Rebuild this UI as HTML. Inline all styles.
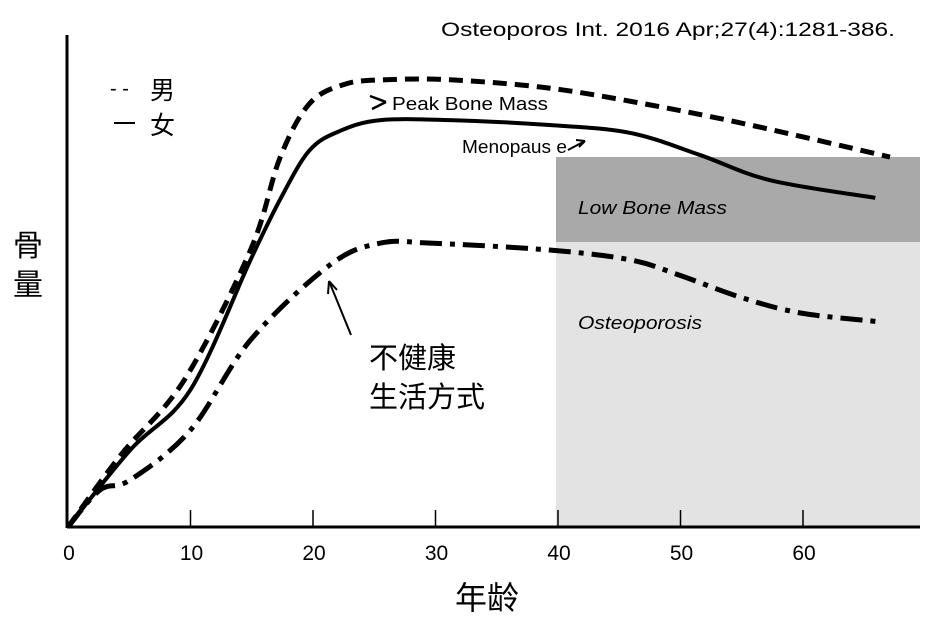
<!DOCTYPE html>
<html><head><meta charset="utf-8"><style>
body{margin:0;background:#fff;width:931px;height:620px;overflow:hidden}
svg text{font-family:"Liberation Sans","Noto Sans CJK SC",sans-serif}
</style></head><body>
<svg id="chart" width="931" height="620">
<rect x="556" y="157" width="364" height="370" fill="#e3e3e3"/>
<rect x="556" y="157" width="364" height="85" fill="#a9a9a9"/>
<g id="axes"></g>
<g id="series"></g>
<text x="441" y="36" font-size="19" textLength="454" lengthAdjust="spacingAndGlyphs">Osteoporos Int. 2016 Apr;27(4):1281-386.</text>
<text x="110" y="95" font-size="20">- -</text>
<text x="150" y="99" font-size="25">男</text>
<line x1="114" y1="123" x2="135" y2="123" stroke="#000" stroke-width="2"/>
<text x="150" y="134" font-size="25">女</text>
<text x="392" y="110" font-size="18" textLength="156" lengthAdjust="spacingAndGlyphs">Peak Bone Mass</text>
<path d="M386,102 L370,96 M386,102 L372,109" stroke="#000" stroke-width="2.5" fill="none"/>
<text x="462" y="153" font-size="18" textLength="105" lengthAdjust="spacingAndGlyphs">Menopaus e</text>
<path d="M568,150 L585,141 M585,141 L576,140 M585,141 L579,147" stroke="#000" stroke-width="2" fill="none"/>
<text x="578" y="214" font-size="18" font-style="italic" textLength="149" lengthAdjust="spacingAndGlyphs">Low Bone Mass</text>
<text x="578" y="329" font-size="18" font-style="italic" textLength="124" lengthAdjust="spacingAndGlyphs">Osteoporosis</text>
<path d="M351,335 L329,281 M329,281 L328,294 M329,281 L337,290" stroke="#000" stroke-width="2" fill="none"/>
<text x="369" y="368" font-size="29">不健康</text>
<text x="369" y="407" font-size="29">生活方式</text>
<text x="13" y="256" font-size="30">骨</text>
<text x="13" y="295" font-size="30">量</text>
<text x="487" y="609" font-size="32" text-anchor="middle">年龄</text>
</svg>
<script>
const xTicks=[0,10,20,30,40,50,60];
const maleAges=[0,4.3,9.5,14.9,17.3,19.7,22.6,25.9,31.2,39.3,47.5,55.7,67.1];
const maleValues=[0,14.6,29.9,56.3,75,86,90,90.9,90.9,89.2,85.8,81.7,75.2];
const femaleAges=[0,5.1,10,14.9,17.3,19.7,22.2,25.5,31.2,39.3,45.9,51.6,57.3,65.9];
const femaleValues=[0,15.7,27.9,54.3,66.5,76.5,80.5,82.7,82.7,81.7,80.1,75.6,70.5,66.9];
const unhealthyAges=[0,2.6,5.1,10,14.9,21.4,25.5,29.6,39.3,45.9,49.9,54.9,59.8,66.3];
const unhealthyValues=[0,7.5,9.6,19.7,38.0,53.3,57.7,57.7,56.3,54.3,51.2,46.7,43.5,41.7];
const X=a=>68+12.25*a, Y=v=>527-4.92*v;
const NS='http://www.w3.org/2000/svg';
const axes=document.getElementById('axes'), series=document.getElementById('series');
function mk(tag,attrs,parent){const e=document.createElementNS(NS,tag);for(const k in attrs)e.setAttribute(k,attrs[k]);parent.appendChild(e);return e;}
let a=mk('line',{x1:67,y1:527,x2:920,y2:527,stroke:'#000','stroke-width':3},axes);


a=mk('line',{x1:67,y1:35,x2:67,y2:528,stroke:'#000','stroke-width':3},axes);


xTicks.forEach(t=>{
  if(t>0){const l=mk('line',{x1:X(t),y1:510,x2:X(t),y2:527,stroke:'#000','stroke-width':1.5},axes);
  
  }
  const tx=mk('text',{x:X(t)+1,y:560,'font-size':21,'text-anchor':'middle'},axes);
  tx.textContent=t;
  
  
});
function path(ages,vals){
  const p=ages.map((g,i)=>[X(g),Y(vals[i])]);
  let d='M'+p[0][0]+','+p[0][1];
  for(let i=0;i<p.length-1;i++){
    const p0=p[Math.max(0,i-1)],p1=p[i],p2=p[i+1],p3=p[Math.min(p.length-1,i+2)];
    d+=' C'+(p1[0]+(p2[0]-p0[0])/6)+','+(p1[1]+(p2[1]-p0[1])/6)+' '+(p2[0]-(p3[0]-p1[0])/6)+','+(p2[1]-(p3[1]-p1[1])/6)+' '+p2[0]+','+p2[1];
  }
  return d;
}
let s=mk('path',{d:path(maleAges,maleValues),fill:'none',stroke:'#000','stroke-width':5,'stroke-dasharray':'14 8'},series);


s=mk('path',{d:path(femaleAges,femaleValues),fill:'none',stroke:'#000','stroke-width':4},series);


s=mk('path',{d:path(unhealthyAges,unhealthyValues),fill:'none',stroke:'#000','stroke-width':5,'stroke-dasharray':'22 8 5 8'},series);


</script>
</body></html>
